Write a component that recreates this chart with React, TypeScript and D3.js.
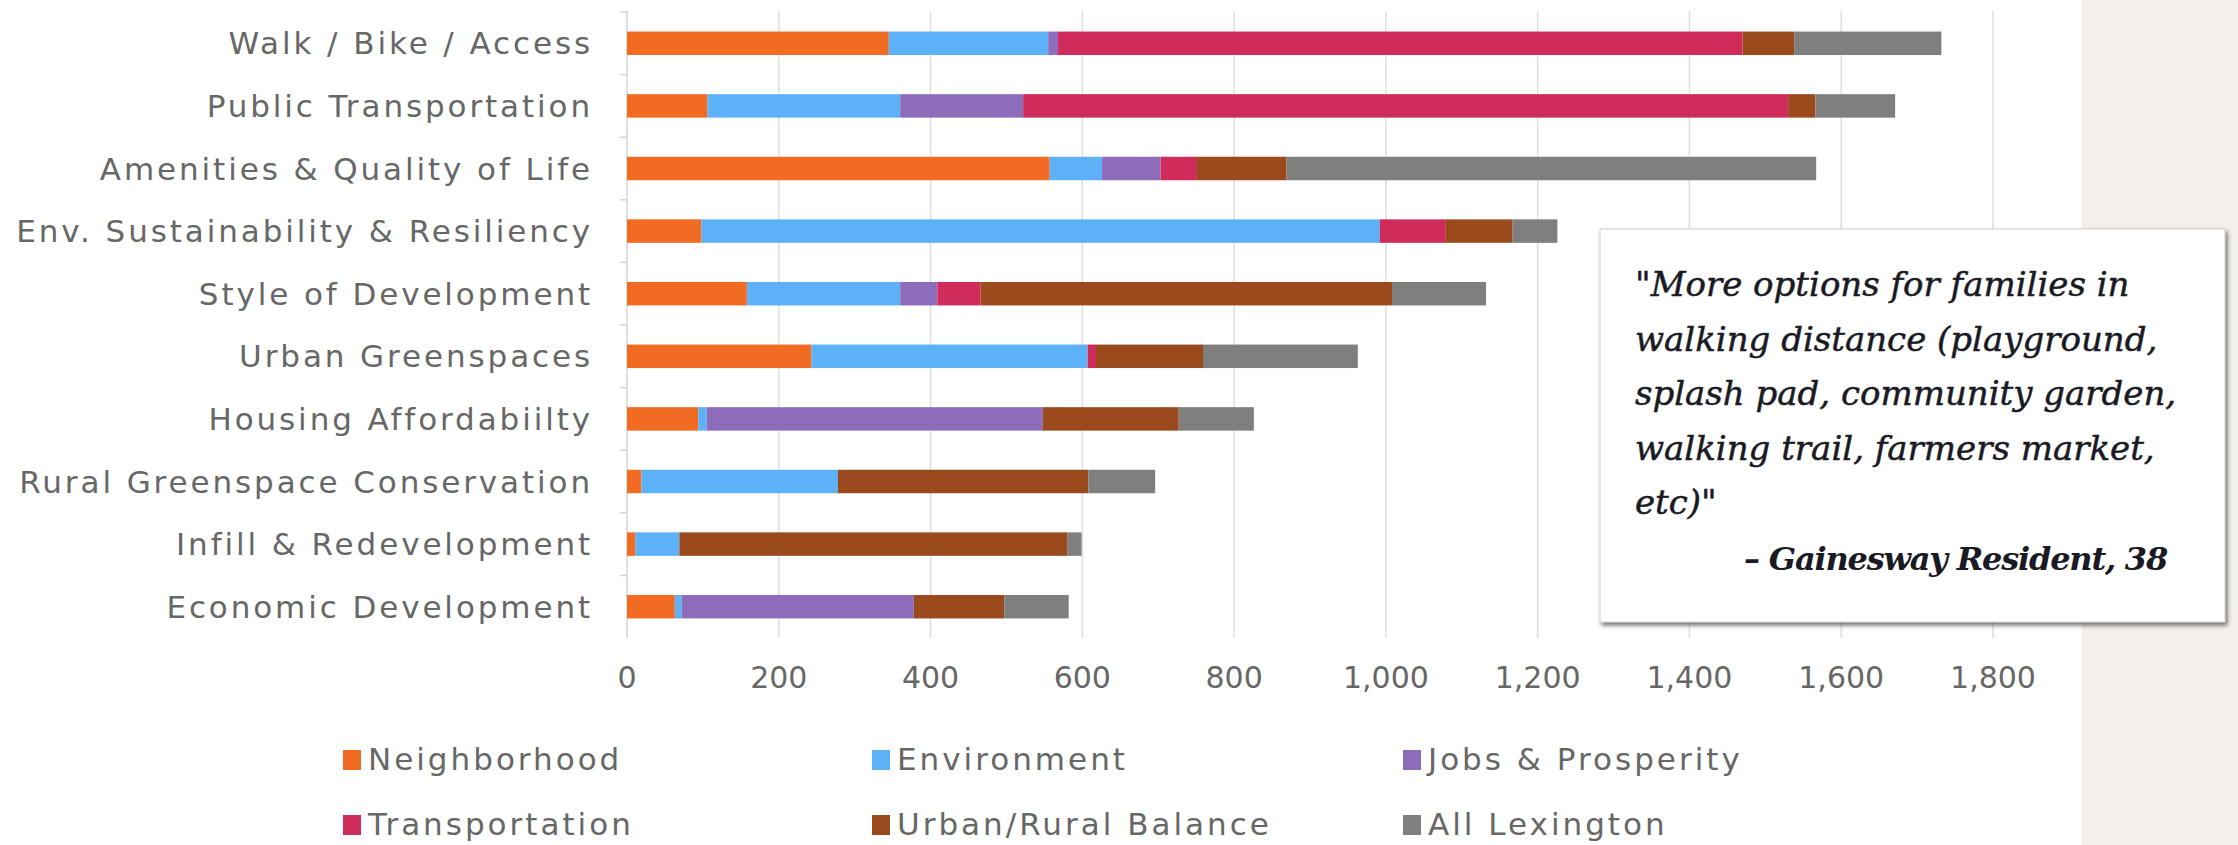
import React from "react";
import * as d3 from "d3";

const categories = [
  "Walk / Bike / Access",
  "Public Transportation",
  "Amenities & Quality of Life",
  "Env. Sustainability & Resiliency",
  "Style of Development",
  "Urban Greenspaces",
  "Housing Affordabiilty",
  "Rural Greenspace Conservation",
  "Infill & Redevelopment",
  "Economic Development",
];

const neighborhood = [345, 106, 557, 98, 158, 243, 94, 19, 11, 63];
const environment = [210, 254, 69, 894, 202, 364, 11, 259, 58, 9];
const jobsProsperity = [13, 162, 77, 0, 49, 0, 443, 0, 0, 306];
const transportation = [902, 1008, 48, 87, 57, 11, 0, 0, 0, 0];
const urbanRural = [68, 36, 118, 88, 542, 141, 179, 330, 511, 119];
const allLexington = [194, 105, 698, 59, 124, 204, 99, 88, 19, 85];

const seriesNames = [
  "Neighborhood",
  "Environment",
  "Jobs & Prosperity",
  "Transportation",
  "Urban/Rural Balance",
  "All Lexington",
];
const seriesValues = [neighborhood, environment, jobsProsperity, transportation, urbanRural, allLexington];
const seriesColors = ["#f26b22", "#5db2f7", "#8e6cbc", "#cf2b5b", "#9a4a1d", "#7f807e"];

const xTicks = [0, 200, 400, 600, 800, 1000, 1200, 1400, 1600, 1800];

const quoteLines = [
  "\"More options for families in",
  "walking distance (playground,",
  "splash pad, community garden,",
  "walking trail, farmers market,",
  "etc)\"",
];
const quoteAuthor = "– Gainesway Resident, 38";

const W = 2238;
const H = 845;

export default function App() {
  const x = d3.scaleLinear().domain([0, 1800]).range([627, 1993]);
  const y = d3
    .scaleBand<string>()
    .domain(categories)
    .range([12, 638])
    .paddingInner(0.625)
    .paddingOuter(0.3125);

  const table = categories.map((c, i) => {
    const row: any = { category: c };
    seriesNames.forEach((s, k) => (row[s] = seriesValues[k][i]));
    return row;
  });
  const stacked = d3.stack<any>().keys(seriesNames)(table);
  const fmt = d3.format(",");
  const step = y.step();
  const labelFont = "'DejaVu Sans', sans-serif";
  const textColor = "#676767";

  const legendCols = [343, 872, 1403];
  const legendRows = [770, 835];

  return (
    <div style={{ position: "absolute", left: 0, top: 0, width: W, height: H }}>
      <svg width={W} height={H} style={{ display: "block" }}>
        <defs>
          <filter id="shadow" x="-10%" y="-10%" width="125%" height="130%">
            <feDropShadow dx="2" dy="3" stdDeviation="2" floodColor="#444" floodOpacity="0.75" />
          </filter>
        </defs>
        <rect x={0} y={0} width={W} height={H} fill="#ffffff" />
        <rect x={2082} y={0} width={W - 2082} height={H} fill="#f3efea" />

        {/* gridlines */}
        {xTicks.slice(1).map((t) => (
          <line key={t} x1={x(t)} x2={x(t)} y1={11} y2={638} stroke="#dedede" strokeWidth={1.5} />
        ))}
        {/* axis */}
        <line x1={x(0)} x2={x(0)} y1={11} y2={638} stroke="#d4d4d4" strokeWidth={1.5} />
        {categories.map((c, i) => (
          <line
            key={"tk" + i}
            x1={x(0) - 7}
            x2={x(0)}
            y1={(y(c) as number) - (step - y.bandwidth()) / 2}
            y2={(y(c) as number) - (step - y.bandwidth()) / 2}
            stroke="#d4d4d4"
            strokeWidth={1.5}
          />
        ))}

        {/* bars */}
        {stacked.map((s, k) => (
          <g key={s.key} fill={seriesColors[k]}>
            {s.map((d, i) => {
              const w = x(d[1]) - x(d[0]);
              if (w <= 0) return null;
              return (
                <rect
                  key={i}
                  x={x(d[0])}
                  y={y(categories[i])}
                  width={w}
                  height={y.bandwidth()}
                />
              );
            })}
          </g>
        ))}

        {/* category labels */}
        {categories.map((c) => (
          <text
            key={c}
            x={593}
            y={(y(c) as number) + y.bandwidth() / 2}
            dy="0.36em"
            textAnchor="end"
            fontFamily={labelFont}
            fontSize={31}
            letterSpacing={2.9}
            fill={textColor}
          >
            {c}
          </text>
        ))}

        {/* x tick labels */}
        {xTicks.map((t) => (
          <text
            key={"xl" + t}
            x={x(t)}
            y={688}
            textAnchor="middle"
            fontFamily={labelFont}
            fontSize={30}
            fill={textColor}
          >
            {fmt(t)}
          </text>
        ))}

        {/* legend */}
        {seriesNames.map((s, k) => {
          const col = legendCols[k % 3];
          const row = legendRows[Math.floor(k / 3)];
          return (
            <g key={"lg" + k}>
              <rect x={col} y={row - 20} width={18} height={20} fill={seriesColors[k]} />
              <text
                x={col + 25}
                y={row}
                fontFamily={labelFont}
                fontSize={31}
                letterSpacing={3}
                fill={textColor}
              >
                {s}
              </text>
            </g>
          );
        })}

        {/* quote box */}
        <rect
          x={1600}
          y={229}
          width={625}
          height={393}
          fill="#ffffff"
          stroke="#cfcfcf"
          strokeWidth={1}
          filter="url(#shadow)"
        />
        {quoteLines.map((l, i) => (
          <text
            key={"q" + i}
            x={1635}
            y={296 + i * 54.5}
            fontFamily="'DejaVu Serif', serif"
            fontStyle="italic"
            fontSize={34}
            fill="#1a1a24"
            stroke="#1a1a24"
            strokeWidth={0.5}
          >
            {l}
          </text>
        ))}
        <text
          x={2167}
          y={570}
          textAnchor="end"
          fontFamily="'DejaVu Serif', serif"
          fontStyle="italic"
          fontWeight="bold"
          fontSize={32}
          letterSpacing={-1.2}
          fill="#1a1a24"
        >
          {quoteAuthor}
        </text>
      </svg>
    </div>
  );
}
